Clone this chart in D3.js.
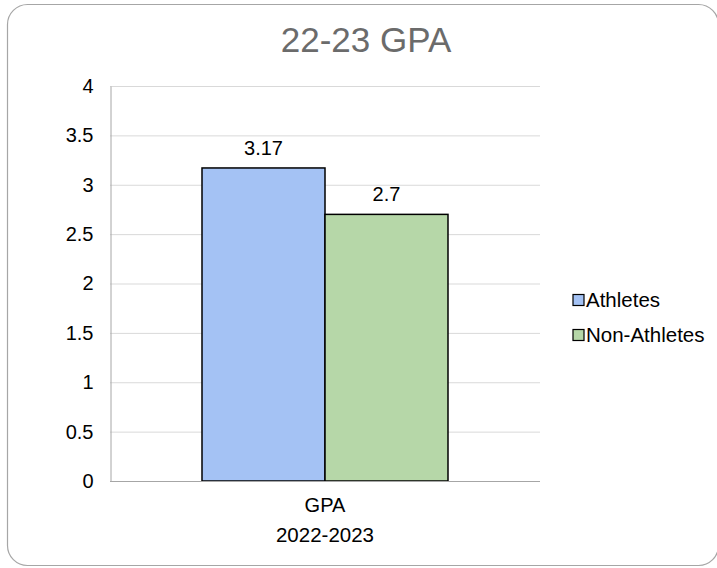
<!DOCTYPE html>
<html>
<head>
<meta charset="utf-8">
<title>22-23 GPA</title>
<script src="https://d3js.org/d3.v7.min.js"></script>
<style>
html, body { margin: 0; padding: 0; background: #fff; }
body { font-family: "Liberation Sans", Arial, sans-serif; }
.grid line { stroke: #d9d9d9; stroke-width: 1; }
</style>
</head>
<body>
<div id="chart"></div>
<script>
// data
var categories = ["GPA"];
var subLabels = ["2022-2023"];
var seriesNames = ["Athletes", "Non-Athletes"];
var seriesValues = [3.17, 2.7];
var seriesColors = ["#a4c2f4", "#b6d7a8"];
var yTicks = [0, 0.5, 1, 1.5, 2, 2.5, 3, 3.5, 4];

var W = 717, H = 568;
var plot = {left: 110, right: 540, top: 86, bottom: 481};

var svg = d3.select("#chart").append("svg")
    .attr("width", W)
    .attr("height", H);

// rounded frame
svg.append("rect")
    .attr("x", 7.5).attr("y", 4.5)
    .attr("width", 711).attr("height", 561)
    .attr("rx", 20).attr("ry", 20)
    .attr("fill", "#fff")
    .attr("stroke", "#a6a6a6")
    .attr("stroke-width", 1.2);

svg.append("text")
    .attr("x", 366).attr("y", 52)
    .attr("text-anchor", "middle")
    .attr("fill", "#6b6b6b")
    .style("font-size", "35px")
    .text("22-23 GPA");

var y = d3.scaleLinear().domain([0, 4]).range([plot.bottom, plot.top]);

var x0 = d3.scaleBand().domain(categories)
    .range([plot.left, plot.right]).paddingInner(0).paddingOuter(0.374);
var x1 = d3.scaleBand().domain(seriesNames)
    .range([0, x0.bandwidth()]);

// gridlines
svg.append("g").attr("class", "grid")
  .selectAll("line").data(yTicks).enter().append("line")
    .attr("x1", plot.left).attr("x2", plot.right)
    .attr("y1", function(d) { return y(d) + 0.5; })
    .attr("y2", function(d) { return y(d) + 0.5; });

// y axis
var yAxis = svg.append("g")
    .attr("transform", "translate(" + (plot.left + 0.5) + ",0)")
    .call(d3.axisLeft(y).tickValues(yTicks).tickSize(0).tickPadding(17)
      .tickFormat(function(d) { return String(d); }));
yAxis.select(".domain").attr("stroke", "#a6a6a6");
yAxis.selectAll("text")
    .style("font-family", "Liberation Sans, Arial, sans-serif")
    .style("font-size", "20px")
    .attr("fill", "#000");

// bars
var g = svg.append("g");
seriesNames.forEach(function(s, i) {
  var bx = x0(categories[0]) + x1(s);
  g.append("rect")
    .attr("x", bx)
    .attr("y", y(seriesValues[i]))
    .attr("width", x1.bandwidth())
    .attr("height", y(0) - y(seriesValues[i]))
    .attr("fill", seriesColors[i])
    .attr("stroke", "#000")
    .attr("stroke-width", 1.5);
  g.append("text")
    .attr("x", bx + x1.bandwidth() / 2)
    .attr("y", y(seriesValues[i]) - 13)
    .attr("text-anchor", "middle")
    .style("font-size", "20px")
    .text(String(seriesValues[i]));
});

// x axis line
svg.append("line")
    .attr("x1", plot.left).attr("x2", plot.right)
    .attr("y1", plot.bottom + 0.5).attr("y2", plot.bottom + 0.5)
    .attr("stroke", "#a6a6a6");

var cx = x0(categories[0]) + x0.bandwidth() / 2;
svg.append("text")
    .attr("x", cx).attr("y", plot.bottom + 31)
    .attr("text-anchor", "middle")
    .style("font-size", "20px")
    .text(categories[0]);
svg.append("text")
    .attr("x", cx).attr("y", plot.bottom + 61)
    .attr("text-anchor", "middle")
    .style("font-size", "20.5px")
    .text(subLabels[0]);

// legend
var legend = svg.append("g");
seriesNames.forEach(function(s, i) {
  var ly = 300 + i * 35;
  legend.append("rect")
    .attr("x", 573).attr("y", ly - 5.5)
    .attr("width", 11).attr("height", 11)
    .attr("fill", seriesColors[i])
    .attr("stroke", "#000").attr("stroke-width", 1.2);
  legend.append("text")
    .attr("x", 586).attr("y", ly + 7)
    .style("font-size", "20.5px")
    .text(s);
});
</script>
</body>
</html>
